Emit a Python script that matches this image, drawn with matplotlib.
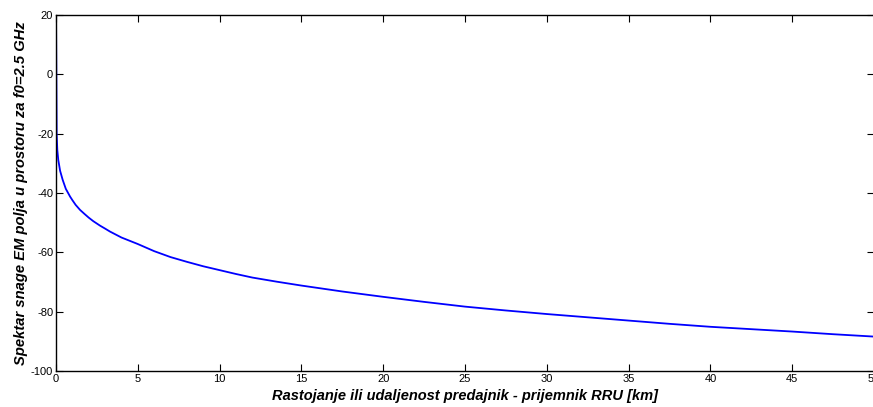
import matplotlib
matplotlib.use('Agg')
import matplotlib.pyplot as plt

# distance [km] and field power spectrum values
dist_km = [0.005, 0.02, 0.04, 0.08, 0.14, 0.25, 0.41, 0.6, 0.86, 1.0, 1.2, 1.47,
           1.75, 2.0, 2.28, 2.69, 3.0, 3.3, 3.65, 4.0, 4.5, 5.0, 5.5, 6.0, 6.5,
           7.0, 8.0, 9.0, 10.0, 11.0, 12.0, 13.5, 15.0, 17.5, 20.0, 22.5, 25.0,
           27.5, 30.0, 32.5, 35.0, 37.5, 40.0, 42.5, 45.0, 47.5, 50.0]
power_db = [18.0, 2.0, -20.0, -25.5, -28.9, -32.5, -35.6, -38.6, -41.2, -42.4,
            -44.0, -45.7, -47.1, -48.3, -49.5, -51.0, -52.0, -53.0, -54.0,
            -55.0, -56.1, -57.2, -58.4, -59.6, -60.6, -61.6, -63.2, -64.7,
            -66.0, -67.3, -68.5, -69.9, -71.2, -73.2, -75.0, -76.7, -78.3,
            -79.6, -80.8, -81.9, -83.0, -84.1, -85.1, -85.9, -86.7, -87.6,
            -88.4]

x_ticks = [0, 5, 10, 15, 20, 25, 30, 35, 40, 45, 50]
y_ticks = [-100, -80, -60, -40, -20, 0, 20]

plt.rcParams['font.family'] = ['Liberation Sans', 'DejaVu Sans']
plt.rcParams['axes.unicode_minus'] = False

fig = plt.figure(figsize=(8.73, 4.07), dpi=100)
ax = fig.add_axes([56 / 873, 1 - 371 / 407, (874 - 56) / 873, (371 - 15) / 407])

ax.plot(dist_km, power_db, color='#0000ff', linewidth=1.3)

ax.set_xlim(0, 50)
ax.set_ylim(-100, 20)
ax.set_xticks(x_ticks)
ax.set_yticks(y_ticks)
ax.tick_params(direction='in', length=5, width=0.8, labelsize=8,
               top=True, right=True, pad=2)
for s in ax.spines.values():
    s.set_linewidth(1.0)

ax.set_xlabel('Rastojanje ili udaljenost predajnik - prijemnik RRU [km]',
              fontsize=10.5, fontweight='bold', fontstyle='italic', labelpad=4)
ax.set_ylabel('Spektar snage EM polja u prostoru za f0=2.5 GHz',
              fontsize=10.6, fontweight='bold', fontstyle='italic', labelpad=2)

fig.savefig('out.png', dpi=100)
